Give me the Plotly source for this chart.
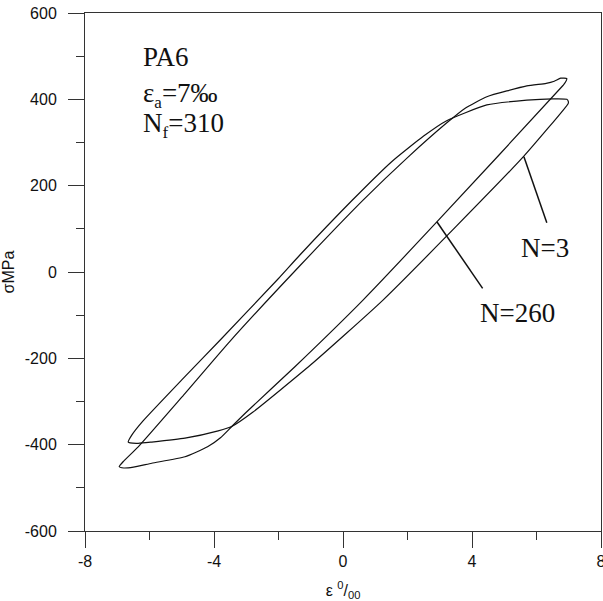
import plotly.graph_objects as go

# ---- data (strain in per mille, stress in MPa) ----
# N=3 loop: loading branch (from compressive tip to tensile tip)
n3_load_x = [-6.66, -6.55, -6.2, -5.0, -3.8, -2.0, -1.33, 0.27, 1.5, 2.5, 3.2, 4.46, 5.70, 6.5, 6.94, 6.99]
n3_load_y = [-394, -378, -345, -250, -157, -15, 40, 165, 255, 315, 350, 387, 398, 401, 400, 394]
# N=3 loop: unloading branch
n3_unl_x = [6.99, 6.98, 5.58, 3.5, 1.24, -1.0, -2.8, -3.45, -3.87, -4.90, -5.93, -6.35, -6.6, -6.66]
n3_unl_y = [394, 390, 266, 105, -65, -215, -325, -358, -368, -385, -394, -397, -396, -394]

# N=260 loop: loading branch
n260_load_x = [-6.94, -6.8, -6.35, -5.0, -3.5, -1.33, 0.63, 2.0, 3.21, 3.8, 4.46, 5.70, 6.3, 6.55, 6.75, 6.94]
n260_load_y = [-451, -438, -405, -290, -160, 15, 167, 265, 345, 380, 406, 431, 437, 442, 449, 448]
# N=260 loop: unloading branch
n260_unl_x = [6.94, 6.9, 6.82, 2.91, 0.62, -1.5, -3.0, -3.45, -3.8, -4.2, -4.90, -5.93, -6.5, -6.8, -6.94]
n260_unl_y = [448, 440, 432, 116, -65, -220, -325, -358, -384, -405, -428, -443, -452, -454, -451]

# leader lines for labels
lead_n3_x = [5.61, 6.32]
lead_n3_y = [267, 114]
lead_n260_x = [2.91, 4.33]
lead_n260_y = [116.5, -38]

x_ticks = [-8, -4, 0, 4, 8]
x_tick_text = ["-8", "-4", "0", "4", "8"]
y_ticks = [-600, -400, -200, 0, 200, 400, 600]
y_tick_text = ["-600", "-400", "-200", "0", "200", "400", "600"]

LINE = dict(color="#111111", width=1.2, shape="spline", smoothing=0.5)

fig = go.Figure()
fig.add_trace(go.Scatter(x=n3_load_x + n3_unl_x[1:], y=n3_load_y + n3_unl_y[1:],
                         mode="lines", line=LINE, hoverinfo="skip"))
fig.add_trace(go.Scatter(x=n260_load_x + n260_unl_x[1:], y=n260_load_y + n260_unl_y[1:],
                         mode="lines", line=LINE, hoverinfo="skip"))
fig.add_trace(go.Scatter(x=lead_n3_x, y=lead_n3_y, mode="lines",
                         line=dict(color="#111111", width=1.5), hoverinfo="skip"))
fig.add_trace(go.Scatter(x=lead_n260_x, y=lead_n260_y, mode="lines",
                         line=dict(color="#111111", width=1.5), hoverinfo="skip"))

SERIF = "Liberation Serif, Times New Roman, serif"
SANS = "Liberation Sans, Arial, sans-serif"

ann = [
    dict(x=-6.26, y=497, text="PA6", xanchor="left", yanchor="middle"),
    dict(x=-6.26, y=410, text="ε<sub><span style='font-size:17px'>a</span></sub>=7‰", xanchor="left", yanchor="middle"),
    dict(x=-6.26, y=341, text="N<sub><span style='font-size:17px'>f</span></sub>=310", xanchor="left", yanchor="middle"),
    dict(x=6.26, y=55, text="N=3", xanchor="center", yanchor="middle"),
    dict(x=5.41, y=-95, text="N=260", xanchor="center", yanchor="middle"),
]
for a in ann:
    a.update(showarrow=False, xref="x", yref="y", font=dict(family=SERIF, size=27, color="#111"))

axis_common = dict(
    showgrid=False, zeroline=False, showline=True, linecolor="#333", linewidth=1,
    mirror=True, ticks="outside", ticklen=16, tickwidth=1, tickcolor="#333",
    tickfont=dict(family=SANS, size=16, color="#111"),
    ticklabeloverflow="allow",
)

fig.update_layout(
    width=603, height=601,
    margin=dict(l=85, r=2, t=13, b=70),
    paper_bgcolor="white", plot_bgcolor="white",
    showlegend=False,
    annotations=ann,
    xaxis=dict(range=[-8, 8], tickvals=x_ticks, ticktext=x_tick_text,
               automargin=False,
               minor=dict(ticks="outside", ticklen=8, tickcolor="#333", dtick=2, tick0=0),
               title=dict(text="ε <sup>0</sup>/<sub>00</sub>", font=dict(family=SANS, size=16, color="#111")),
               **axis_common),
    yaxis=dict(range=[-600, 600], tickvals=y_ticks, ticktext=y_tick_text,
               ticklabelstandoff=8, automargin=False,
               minor=dict(ticks="outside", ticklen=8, tickcolor="#333", dtick=100, tick0=0),
               title=dict(text="σMPa", font=dict(family=SANS, size=16, color="#111")),
               **axis_common),
)

fig.write_html("out.html")
